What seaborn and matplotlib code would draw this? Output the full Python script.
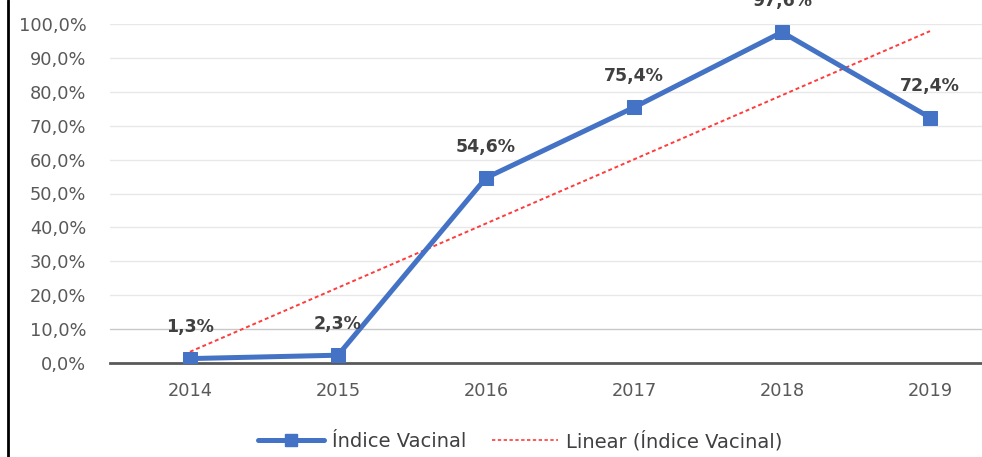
import numpy as np
import pandas as pd
import matplotlib
matplotlib.use("Agg")
import matplotlib.pyplot as plt
from matplotlib.lines import Line2D
import seaborn as sns

years = ["2014", "2015", "2016", "2017", "2018", "2019"]
indice = [1.3, 2.3, 54.6, 75.4, 97.6, 72.4]
yticks = [0, 10, 20, 30, 40, 50, 60, 70, 80, 90, 100]

sns.set_style("white")
plt.rcParams["font.family"] = ["DejaVu Sans"]

df = pd.DataFrame({"pos": np.arange(len(years)), "val": indice})

fig = plt.figure(figsize=(9.82, 4.57), dpi=100)
ax = fig.add_axes([110 / 982, 1 - 363 / 457, 1 - 110 / 982, (363 - 24) / 457])

# trend line (linear fit)
coef = np.polyfit(df["pos"], df["val"], 1)
trend = np.polyval(coef, df["pos"])
ax.plot(df["pos"], trend, color="#FF3B3B", lw=1.4, ls=(0, (2, 1.5)), zorder=2)

sns.lineplot(data=df, x="pos", y="val", ax=ax, color="#4472C4", lw=3.6,
             marker="s", markersize=10, markeredgecolor="#4472C4", zorder=3)

for x, v in zip(df["pos"], indice):
    ax.annotate(f"{v:.1f}%".replace(".", ","), (x, v), xytext=(0, 16),
                textcoords="offset points", ha="center", va="bottom",
                fontsize=12.5, fontweight="bold", color="#404040",
                annotation_clip=False)

ax.set_xlim(-0.54, (982 - 190) / 148)
ax.set_ylim(0, 100)
ax.set_yticks(yticks)
ax.set_yticklabels([f"{t:.1f}%".replace(".", ",") for t in yticks])
ax.set_xticks(df["pos"])
ax.set_xticklabels(years)
ax.set_xlabel("")
ax.set_ylabel("")
ax.tick_params(axis="both", length=0, labelsize=12.8, colors="#595959")
ax.tick_params(axis="y", pad=17)
ax.tick_params(axis="x", pad=14)

for t in yticks[1:]:
    ax.axhline(t, color="#C8C8C8" if t == 10 else "#E8E8E8", lw=1, zorder=0)

for s in ["top", "right", "left"]:
    ax.spines[s].set_visible(False)
ax.spines["bottom"].set_color("#595959")
ax.spines["bottom"].set_linewidth(2)

handles = [
    Line2D([0], [0], color="#4472C4", lw=3.6, marker="s", markersize=9),
    Line2D([0], [0], color="#FF3B3B", lw=1.2, ls=(0, (2, 1.5))),
]
fig.legend(handles, ["Índice Vacinal", "Linear (Índice Vacinal)"],
           loc="center", bbox_to_anchor=(520 / 982, 1 - 441 / 457), ncol=2,
           frameon=False, fontsize=14, handlelength=3.4, handletextpad=0.4,
           columnspacing=1.3, labelcolor="#404040")

fig.add_artist(Line2D([8 / 982, 8 / 982], [0, 1], color="black", lw=2,
                      transform=fig.transFigure))

fig.savefig("out.png", dpi=100)
